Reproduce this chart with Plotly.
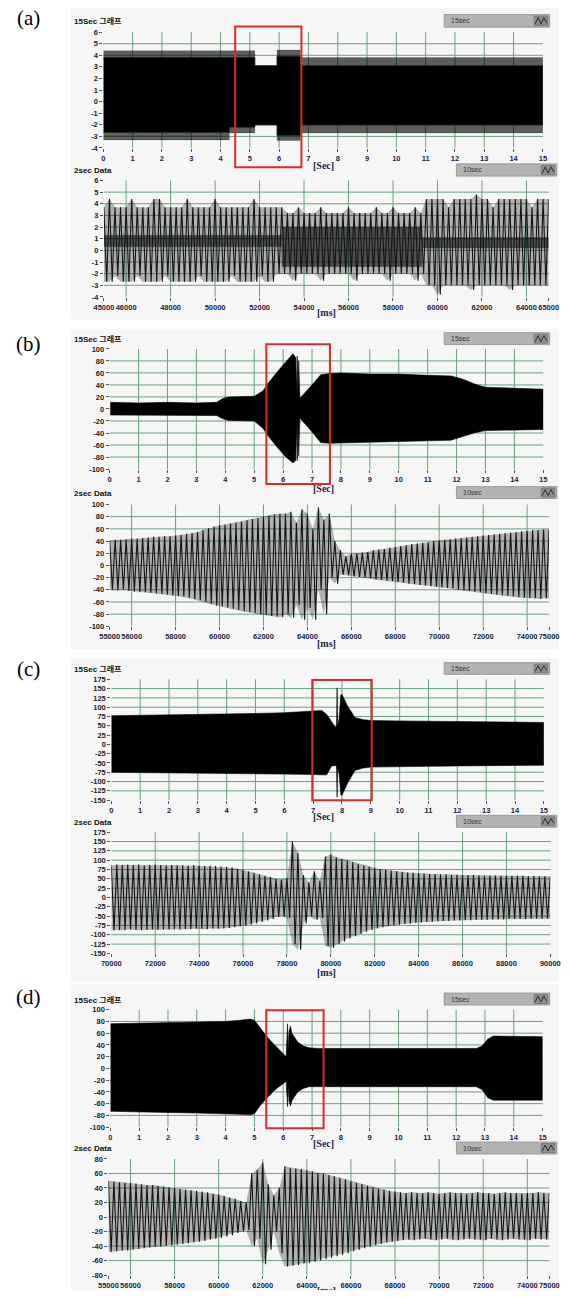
import plotly.graph_objects as go

W, H = 569, 1298

# ---------------- data ----------------
# (a) 15 s record: solid envelope and spike envelope
a15_t   = [0.0, 4.3, 4.3, 5.17, 5.17, 5.93, 5.93, 6.72, 6.72, 15.0]
a15_hi  = [3.8, 3.8, 3.8, 3.8, 3.1, 3.1, 3.9, 3.9, 3.1, 3.1]
a15_his = [4.4, 4.4, 4.4, 4.4, 3.1, 3.1, 4.45, 4.45, 3.8, 3.8]
a15_lo  = [-2.65, -2.65, -2.2, -2.2, -2.0, -2.0, -2.9, -2.9, -2.0, -2.0]
a15_los = [-3.3, -3.3, -2.7, -2.7, -2.0, -2.0, -3.35, -3.35, -2.7, -2.7]

# (a) 2 s data: cycle peaks (tops every 250 ms, bottoms in between)
PEAK_STEP_MS = 250
a2_start = 45000
a2_top = [3.7, 4.4, 3.7, 3.7, 3.7, 4.4, 3.7, 3.7, 3.7, 4.4, 4.4, 3.7, 3.7, 3.7, 3.7, 4.4, 3.7,
          3.7, 3.7, 3.7, 4.4, 3.7, 3.7, 3.7, 3.7, 3.7, 3.7, 4.4, 3.7, 3.7, 3.7, 3.7, 3.7,
          3.2, 3.2, 3.7, 3.2, 3.2, 3.2, 3.7, 3.2, 3.2, 3.2, 3.2, 3.7, 3.2, 3.2, 3.2, 3.2, 3.7,
          3.2, 3.2, 3.7, 3.2, 3.2, 3.2, 3.7, 3.2,
          4.4, 4.4, 4.4, 4.4, 3.7, 4.4, 4.4, 4.4, 4.4, 4.8, 4.4, 4.4, 3.7, 4.4, 4.4, 4.4, 4.4,
          4.4, 4.4, 3.7, 4.4, 4.4, 4.4]
a2_bot = [-2.7, -2.7, -2.2, -2.7, -2.7, -2.7, -2.2, -2.7, -2.7, -2.7, -2.7, -2.2, -2.7, -2.7,
          -2.7, -2.7, -2.7, -2.2, -2.7, -2.7, -2.7, -2.7, -2.7, -2.2, -2.7, -2.7, -2.7, -2.7,
          -2.2, -2.7, -2.7, -2.0,
          -2.0, -2.0, -2.6, -2.0, -2.0, -2.0, -2.0, -2.6, -2.0, -2.0, -2.0, -2.0, -2.0, -2.6,
          -2.0, -2.0, -2.0, -2.0, -2.0, -2.6, -2.0, -2.0, -2.0, -2.0, -2.6, -2.0,
          -3.0, -3.0, -3.8, -3.0, -3.0, -3.0, -3.0, -3.0, -3.4, -3.0, -3.0, -3.0, -3.0, -3.0,
          -3.0, -3.4, -3.0, -3.0, -3.0, -3.0, -3.0, -3.0]
a2_band_t  = [45000, 53000, 53000, 59300, 59300, 65000]
a2_band_hi = [1.3, 1.3, 2.0, 2.0, 1.1, 1.1]
a2_band_lo = [0.3, 0.3, -1.4, -1.4, 0.2, 0.2]

# (b) 15 s record envelope
b15_t  = [0.02, 1, 2, 3, 3.7, 3.9, 4.1, 5.0, 5.3, 5.5, 5.8, 6.1, 6.34, 6.44, 6.46, 6.49, 6.51,
          6.54, 6.58, 7.0, 7.3, 7.6, 8.0, 9.0, 10.0, 11.0, 11.8, 12.2, 12.6, 13.0, 13.5, 14.0, 15.0]
b15_hi = [11, 10, 11, 10, 11, 17, 20, 21, 30, 44, 62, 78, 92, 85, 30, 88, 25, 80, 18, 40, 57,
          59, 60, 58, 58, 56, 55, 50, 42, 36, 35, 34, 33]
b15_lo = [-10, -11, -10, -11, -11, -16, -19, -20, -32, -46, -64, -80, -90, -85, -28, -86, -22,
          -78, -15, -38, -56, -57, -57, -55, -54, -53, -52, -46, -40, -36, -35, -35, -34]

# (b) 2 s data peaks
b2_start = 55000
b2_top = [41, 42, 42, 43, 44, 44, 45, 46, 47, 47, 48, 48, 49, 50, 52, 53, 55, 58, 61, 64, 66,
          67, 69, 70, 72, 74, 76, 78, 80, 82, 84, 85, 85, 88, 70, 92, 85, 60, 95, 75, 85, 40,
          25, 15, 19, 20, 21, 22, 25, 26, 27, 29, 30, 32, 33, 35, 36, 37, 38, 40, 41, 42, 43,
          44, 45, 46, 47, 48, 49, 50, 51, 52, 53, 54, 55, 56, 57, 58, 58, 59, 59]
b2_bot = [-40, -41, -40, -42, -43, -44, -44, -45, -46, -47, -48, -49, -50, -51, -53, -55, -57,
          -60, -63, -66, -67, -69, -71, -73, -75, -77, -78, -80, -81, -83, -84, -85, -80, -86,
          -65, -89, -70, -89, -40, -80, -20, -30, -15, -16, -18, -19, -20, -21, -23, -24, -25,
          -26, -27, -28, -30, -31, -32, -33, -34, -35, -36, -37, -38, -40, -41, -42, -43, -44,
          -46, -47, -48, -49, -50, -51, -52, -53, -54, -54, -55, -54]

# (c) 15 s record envelope
c15_t  = [0, 1, 2, 3, 4, 5, 6, 7.0, 7.3, 7.47, 7.64, 7.77, 7.81, 7.83, 7.85, 7.9, 7.96, 8.0,
          8.2, 8.45, 8.7, 9.0, 10, 11, 12, 13, 14, 15]
c15_hi = [77, 78, 79, 80, 81, 83, 85, 89, 91, 80, 62, 46, 50, 152, 48, 70, 133, 134, 102, 72,
          67, 64, 63, 62, 61, 60, 59, 59]
c15_lo = [-75, -76, -77, -77, -78, -79, -80, -81, -82, -82, -58, -57, -60, -142, -62, -80,
          -136, -137, -103, -70, -64, -61, -60, -59, -58, -57, -56, -56]

# (c) 2 s data peaks
c2_start = 70000
c2_top = [86, 88, 87, 88, 87, 88, 86, 87, 88, 87, 86, 87, 86, 86, 85, 86, 85, 84, 85, 84, 83,
          82, 80, 77, 74, 70, 66, 62, 58, 55, 50, 48, 52,
          150, 120, 60, 40, 70, 45, 110, 115,
          108, 104, 100, 95, 90, 86, 82, 79, 76, 74, 72, 70, 69, 67, 66, 65,
          64, 63, 63, 62, 62, 61, 61, 60, 60, 60, 59, 59, 59, 59, 58, 58, 58, 58, 58, 57, 58,
          57, 57, 57]
c2_bot = [-88, -87, -88, -86, -87, -88, -87, -86, -87, -86, -86, -85, -86, -85, -85, -84, -84,
          -85, -83, -84, -83, -82, -80, -78, -76, -73, -70, -66, -62, -58, -52, -50, -55,
          -125, -140, -70, -50, -60, -55, -130, -135,
          -125, -118, -110, -104, -98, -92, -87, -83, -80, -77, -75, -73, -71, -70, -68, -67,
          -66, -65, -64, -63, -63, -62, -62, -61, -61, -60, -60, -60, -59, -59, -59, -58, -58,
          -58, -58, -57, -57, -57, -57]

# (d) 15 s record envelope
d15_t  = [0, 1, 2, 3, 4, 4.5, 4.85, 5.0, 5.2, 5.4, 5.6, 5.8, 6.0, 6.1, 6.15, 6.17, 6.2, 6.25,
          6.3, 6.5, 6.7, 6.9, 7.2, 8, 10, 12, 12.7, 12.9, 13.1, 13.3, 14, 15]
d15_hi = [76, 77, 77, 78, 80, 82, 84, 82, 68, 56, 45, 35, 25, 20, 76, 30, 62, 72, 60, 45, 38,
          35, 34, 34, 35, 34, 34, 38, 50, 55, 55, 54]
d15_lo = [-73, -74, -75, -76, -77, -78, -79, -77, -63, -52, -42, -33, -26, -22, -65, -28, -55,
          -64, -55, -40, -34, -31, -30, -30, -31, -31, -31, -36, -50, -54, -54, -54]

# (d) 2 s data peaks
d2_start = 55000
d2_top = [50, 49, 48, 47, 47, 46, 45, 44, 44, 43, 42, 41, 40, 39, 38, 37, 36, 35, 34, 32, 31,
          29, 27, 25, 22, 20,
          60, 65, 75, 45, 30, 40, 70,
          68, 67, 66, 64, 63, 61, 60, 58, 56, 54, 52, 49,
          47, 45, 43, 41, 39, 38, 36, 35,
          34, 33, 34, 33, 33, 34, 33, 32, 33, 34, 33, 33, 32, 33, 34, 33, 33, 32, 33, 34, 33,
          33, 32, 33, 33, 34, 33, 33]
d2_bot = [-48, -47, -46, -46, -45, -44, -43, -42, -41, -41, -40, -39, -38, -37, -36, -35, -34,
          -33, -31, -30, -29,
          -27, -25, -22, -20, -18,
          -40, -30, -65, -45, -20, -50, -68,
          -67, -66, -64, -63, -62, -60, -58, -56, -54, -52, -50, -47,
          -45, -43, -41, -39, -37, -35, -34, -33,
          -32, -31, -32, -31, -30, -31, -32, -31, -30, -31, -32, -31, -30, -31, -31, -32, -30,
          -31, -32, -31, -30, -31, -31, -32, -30, -31, -31]

# tick labels
sec_ticks = list(range(0, 16))
a_yticks = list(range(-4, 7))
b_yticks = list(range(-100, 101, 20))
c_yticks = list(range(-150, 176, 25))
d2_yticks = list(range(-80, 81, 20))
a2_xticks = [45000, 46000, 48000, 50000, 52000, 54000, 56000, 58000, 60000, 62000, 64000, 65000]
b2_xticks = [55000, 56000, 58000, 60000, 62000, 64000, 66000, 68000, 70000, 72000, 74000, 75000]
c2_xticks = [70000, 72000, 74000, 76000, 78000, 80000, 82000, 84000, 86000, 88000, 90000]
d2_xticks = b2_xticks

# ---------------- layout geometry (pixels) ----------------
graphs = [
    dict(x0=96.7, x1=552.3, yt=28.3, yb=145.0, xr=[0, 15], yr=[-4, 6], xt=sec_ticks, yt_v=a_yticks),
    dict(x0=97.3, x1=558.3, yt=177.7, yb=295.0, xr=[45000, 65000], yr=[-4, 6], xt=a2_xticks, yt_v=a_yticks),
    dict(x0=103.3, x1=552.7, yt=347.3, yb=468.3, xr=[0, 15], yr=[-100, 100], xt=sec_ticks, yt_v=b_yticks),
    dict(x0=103.3, x1=558.7, yt=504.0, yb=626.7, xr=[55000, 75000], yr=[-100, 100], xt=b2_xticks, yt_v=b_yticks),
    dict(x0=105.0, x1=553.3, yt=680.0, yb=801.7, xr=[0, 15], yr=[-150, 175], xt=sec_ticks, yt_v=c_yticks),
    dict(x0=105.0, x1=560.0, yt=834.0, yb=956.0, xr=[70000, 90000], yr=[-150, 175], xt=c2_xticks, yt_v=c_yticks),
    dict(x0=104.0, x1=552.0, yt=1012.7, yb=1131.0, xr=[0, 15], yr=[-100, 100], xt=sec_ticks, yt_v=b_yticks),
    dict(x0=102.0, x1=559.0, yt=1163.0, yb=1280.0, xr=[55000, 75000], yr=[-80, 80], xt=d2_xticks, yt_v=d2_yticks),
]

panels = [
    dict(label='(a)', ly=14, bg=(2, 318), t15=16.7, box15=(10.7, 23.3), t2=167.7, box10=(161, 173.3), sec=162.5, ms=311),
    dict(label='(b)', ly=342, bg=(327, 650), t15=337.3, box15=(331, 343), t2=493.3, box10=(486, 498), sec=487.5, ms=644),
    dict(label='(c)', ly=670, bg=(659, 984), t15=670, box15=(663.3, 675), t2=824, box10=(817, 829), sec=818, ms=975),
    dict(label='(d)', ly=1000, bg=(987, 1298), t15=1002.7, box15=(996, 1008), t2=1152.7, box10=(1146, 1158), sec=1147.5, ms=1295.5),
]

red_boxes = [  # (graph index, x from, x to [data], y top, y bottom [px])
    (1, 4.5, 6.76, 22.7, 164.3),
    (3, 5.42, 7.62, 342.7, 483.3),
    (5, 6.97, 9.03, 680.7, 801.7),
    (7, 5.41, 7.4, 1013.3, 1132.0),
]

GRID = '#69a27c'
FONT = 'Liberation Sans, Noto Sans CJK KR, sans-serif'


def px(x):
    return x / W


def py(y):
    return 1 - y / H


def suffix(k):
    return '' if k == 1 else str(k)


fig = go.Figure()


def band(k, t, hi, lo, color, width=0.6):
    s = suffix(k)
    fig.add_trace(go.Scatter(x=list(t) + list(t)[::-1], y=list(hi) + list(lo)[::-1],
                             xaxis='x' + s, yaxis='y' + s, mode='lines', fill='toself',
                             fillcolor=color, line=dict(color=color, width=width),
                             hoverinfo='skip'))


def zigzag(k, start, top, bot, color='#141414', width=1.1):
    s = suffix(k)
    tt = [start + PEAK_STEP_MS * i for i in range(len(top))]
    tb = [start + PEAK_STEP_MS * i + PEAK_STEP_MS / 2 for i in range(len(bot))]
    # faint fill between the peak envelopes (dense oscillation look)
    band(k, tt, top, list(bot) + [bot[-1]] * (len(top) - len(bot)), 'rgba(0,0,0,0.28)', 0)
    xs, ys = [], []
    for i in range(len(top)):
        xs.append(tt[i])
        ys.append(top[i])
        if i < len(bot):
            xs.append(tb[i])
            ys.append(bot[i])
    fig.add_trace(go.Scatter(x=xs, y=ys, xaxis='x' + s, yaxis='y' + s, mode='lines',
                             line=dict(color=color, width=width), hoverinfo='skip'))


# (a)
band(1, a15_t, a15_his, a15_hi, 'rgba(0,0,0,0.62)', 0.3)
band(1, a15_t, a15_lo, a15_los, 'rgba(0,0,0,0.62)', 0.3)
band(1, a15_t, a15_hi, a15_lo, 'black')
band(2, a2_band_t, a2_band_hi, a2_band_lo, 'rgba(0,0,0,0.55)', 0.3)
zigzag(2, a2_start, a2_top, a2_bot)
# (b)
band(3, b15_t, b15_hi, b15_lo, 'black')
zigzag(4, b2_start, b2_top, b2_bot)
# (c)
band(5, c15_t, c15_hi, c15_lo, 'black')
zigzag(6, c2_start, c2_top, c2_bot)
# (d)
band(7, d15_t, d15_hi, d15_lo, 'black')
zigzag(8, d2_start, d2_top, d2_bot)

layout = dict(margin=dict(l=0, r=0, t=0, b=0, pad=0), autosize=True,
              paper_bgcolor='white', plot_bgcolor='rgba(0,0,0,0)', showlegend=False)

shapes = []
annotations = []

# panel backgrounds
for p in panels:
    shapes.append(dict(type='rect', xref='paper', yref='paper', x0=px(63), x1=1,
                       y0=py(p['bg'][1]), y1=py(p['bg'][0]), fillcolor='#f6f6f6',
                       line=dict(width=0), layer='below'))

for k, g in enumerate(graphs, start=1):
    s = suffix(k)
    layout['xaxis' + s] = dict(domain=[px(g['x0']), px(g['x1'])], range=g['xr'], anchor='y' + s,
                               tickmode='array', tickvals=g['xt'], ticktext=[str(v) for v in g['xt']],
                               tickangle=0, ticks='outside', ticklen=3, tickcolor='#555',
                               showgrid=False, zeroline=False, showline=False,
                               tickfont=dict(family=FONT, size=7.5, color='#1c2340', weight='bold'),
                               fixedrange=True)
    layout['yaxis' + s] = dict(domain=[py(g['yb']), py(g['yt'])], range=g['yr'], anchor='x' + s,
                               tickmode='array', tickvals=g['yt_v'], ticktext=[str(v) for v in g['yt_v']],
                               ticks='outside', ticklen=3, tickcolor='#555',
                               showgrid=False, zeroline=False, showline=False,
                               tickfont=dict(family=FONT, size=7.5, color='#222', weight='bold'),
                               fixedrange=True)
    for v in g['xt'][1:-1]:
        shapes.append(dict(type='line', xref='x' + s, yref='y' + s + ' domain', x0=v, x1=v, y0=0, y1=1,
                           line=dict(color=GRID, width=1), layer='below'))
    for v in g['yt_v'][1:-1]:
        shapes.append(dict(type='line', xref='x' + s + ' domain', yref='y' + s, x0=0, x1=1, y0=v, y1=v,
                           line=dict(color=GRID, width=1), layer='below'))

# red highlight boxes
for k, xa, xb, yt, yb in red_boxes:
    s = suffix(k)
    shapes.append(dict(type='rect', xref='x' + s, yref='paper', x0=xa, x1=xb, y0=py(yb), y1=py(yt),
                       line=dict(color='#e0282c', width=2), fillcolor='rgba(0,0,0,0)', layer='above'))


def control_box(x0, x1, yt, yb, text):
    shapes.append(dict(type='rect', xref='paper', yref='paper', x0=px(x0), x1=px(x1), y0=py(yb), y1=py(yt),
                       fillcolor='#b3b3b3', line=dict(color='#9a9a9a', width=1), layer='above'))
    shapes.append(dict(type='rect', xref='paper', yref='paper', x0=px(x1 - 16), x1=px(x1 - 2),
                       y0=py(yb - 1.5), y1=py(yt + 1.5), fillcolor='#8e8e8e',
                       line=dict(color='#7a7a7a', width=1), layer='above'))
    pts = [(x1 - 15, yb - 3), (x1 - 12, yt + 3), (x1 - 9, yb - 3), (x1 - 6, yt + 3), (x1 - 3, yb - 4)]
    path = 'M ' + ' L '.join(f'{px(a):.5f},{py(b):.5f}' for a, b in pts)
    shapes.append(dict(type='path', xref='paper', yref='paper', path=path,
                       line=dict(color='#2a2a2a', width=1), layer='above'))
    annotations.append(dict(xref='paper', yref='paper', x=px(x0 + 5), y=py((yt + yb) / 2), text=text,
                            showarrow=False, xanchor='left', yanchor='middle',
                            font=dict(family=FONT, size=7, color='#333')))


for p in panels:
    annotations.append(dict(xref='paper', yref='paper', x=px(19), y=py(p['ly']), text=p['label'],
                            showarrow=False, xanchor='center', yanchor='middle',
                            font=dict(family='Liberation Serif, serif', size=21, color='black')))
    annotations.append(dict(xref='paper', yref='paper', x=px(64), y=py(p['t15']), text='<b>15Sec 그래프</b>',
                            showarrow=False, xanchor='left', yanchor='middle',
                            font=dict(family=FONT, size=8, color='#111')))
    annotations.append(dict(xref='paper', yref='paper', x=px(64), y=py(p['t2']), text='<b>2sec Data</b>',
                            showarrow=False, xanchor='left', yanchor='middle',
                            font=dict(family=FONT, size=8, color='#111')))
    annotations.append(dict(xref='paper', yref='paper', x=px(325), y=py(p['sec']), text='<b>[Sec]</b>',
                            showarrow=False, xanchor='center', yanchor='middle',
                            font=dict(family='Liberation Serif, serif', size=10, color='#1e1e48')))
    annotations.append(dict(xref='paper', yref='paper', x=px(328), y=py(p['ms']), text='<b>[ms]</b>',
                            showarrow=False, xanchor='center', yanchor='middle',
                            font=dict(family='Liberation Serif, serif', size=10, color='#1e1e48')))
    control_box(450, 559.3, p['box15'][0], p['box15'][1], '15sec')
    control_box(462.7, 566.7, p['box10'][0], p['box10'][1], '10sec')

layout['shapes'] = shapes
layout['annotations'] = annotations
fig.update_layout(**layout)

# the div is sized to the window and shifted over the default 8px body margin
fig.write_html("out.html", config={'displayModeBar': False, 'responsive': False},
               default_width=f"{W}px;margin:-8px", default_height=f"{H}px")
